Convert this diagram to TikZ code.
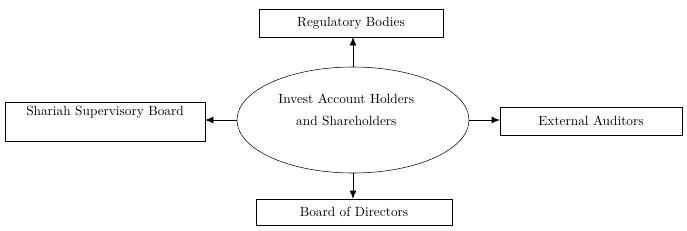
\documentclass[tikz,border=0pt]{standalone}
\usetikzlibrary{shapes.geometric, arrows.meta}
\begin{document}
\begin{tikzpicture}[
            x=0.75pt, y=-0.75pt,
            box/.style={draw, thin, inner sep=3pt},
            link/.style={-{Latex[length=6pt, width=5pt]}, thin}
                           ]
            \useasboundingbox (0,0) rectangle (687,230);

            % 1. Centre ellipse
            \node[draw, thin, ellipse, inner sep=0pt, minimum width=174pt, minimum height=79.5pt] (holders) at (353,120)
                {\hspace*{-10pt}\raisebox{4pt}[0pt][0pt]{\begin{tabular}{@{}c@{}}Invest Account Holders\\[4pt] and Shareholders\end{tabular}}};

            % 2. The four boxes round it
            \node[box, minimum width=138pt, minimum height=21pt] (regulatory) at (351,23) {Regulatory Bodies};
            \node[box, anchor=north, minimum width=150pt, text height=7pt, text depth=16pt] (shariah) at (105,102) {Shariah Supervisory Board};
            \node[box, minimum width=136.5pt, minimum height=21pt] (auditors) at (591,121) {External Auditors};
            \node[box, minimum width=147pt, minimum height=19.5pt] (board) at (354,212) {Board of Directors};

            % 3. Arrows out of the ellipse
            \draw[link] (holders.north) -- (holders.north |- regulatory.south);
            \draw[link] (holders.west) -- (holders.west -| shariah.east);
            \draw[link] (holders.east) -- (holders.east -| auditors.west);
            \draw[link] (holders.south) -- (holders.south |- board.north);

        \end{tikzpicture}
\end{document}
